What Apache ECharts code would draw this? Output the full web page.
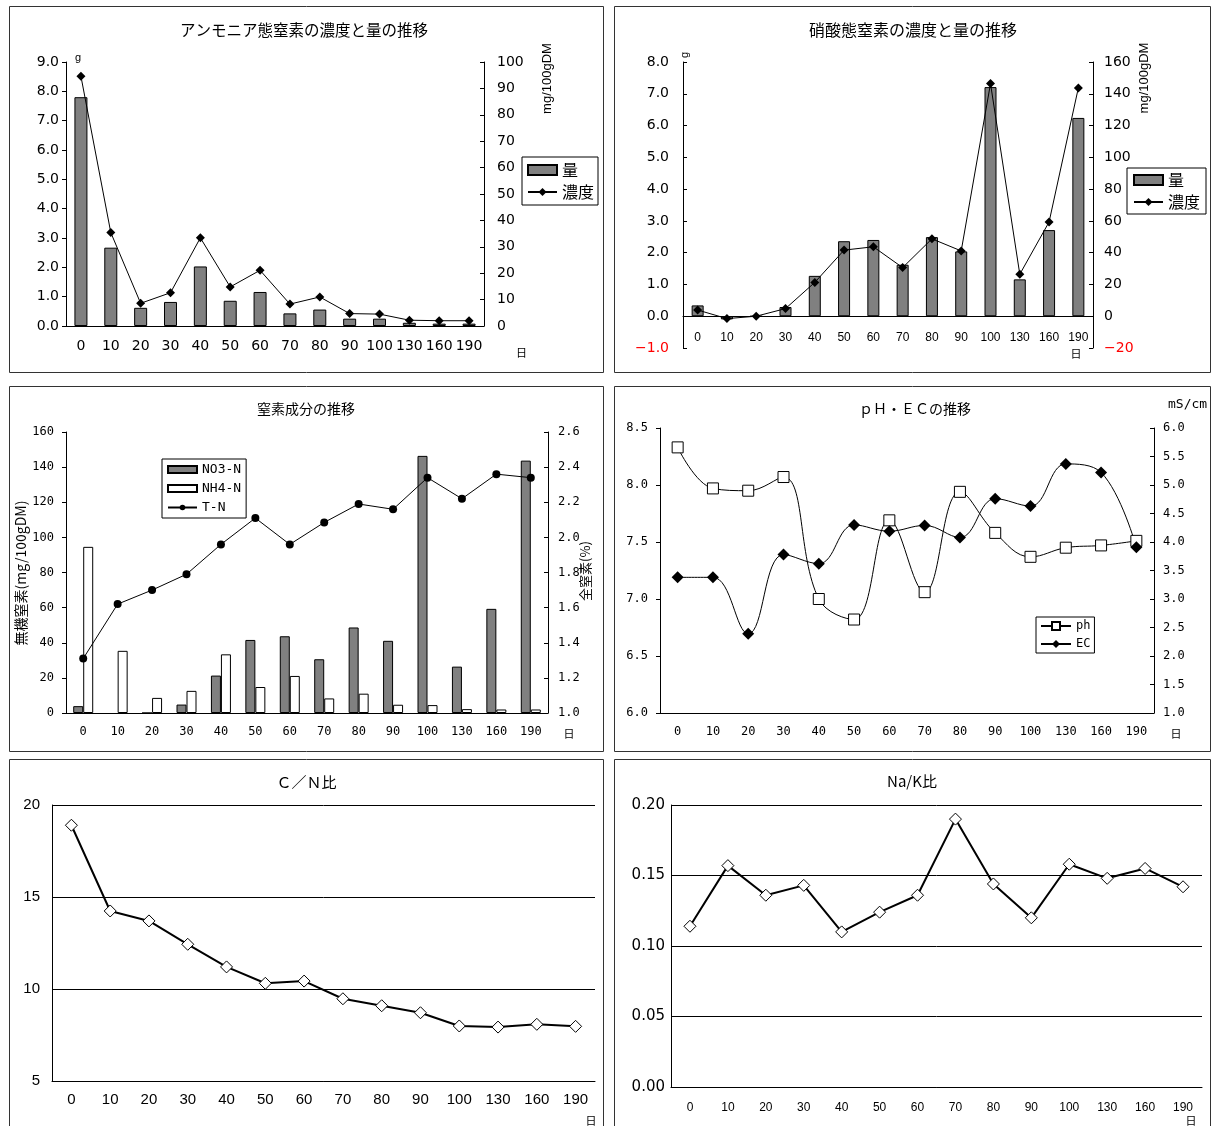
<!DOCTYPE html>
<html>
<head>
<meta charset="utf-8">
<title>堆肥化過程における窒素・pH・EC等の推移</title>
<script src="https://cdn.jsdelivr.net/npm/echarts@6/dist/echarts.min.js"></script>
<style>
  html, body { margin: 0; padding: 0; background: #fff; width: 1213px; height: 1126px; overflow: hidden; }
  .panel { position: absolute; }
</style>
</head>
<body>
<div id="p1" class="panel" style="left:9px;top:6px;width:595px;height:367px"></div>
<div id="p2" class="panel" style="left:614px;top:6px;width:597px;height:367px"></div>
<div id="p3" class="panel" style="left:9px;top:386px;width:595px;height:366px"></div>
<div id="p4" class="panel" style="left:614px;top:386px;width:597px;height:366px"></div>
<div id="p5" class="panel" style="left:9px;top:759px;width:595px;height:372px"></div>
<div id="p6" class="panel" style="left:614px;top:759px;width:597px;height:372px"></div>
<script>
// 経過日数
const days = ['0', '10', '20', '30', '40', '50', '60', '70', '80', '90', '100', '130', '160', '190'];

// アンモニア態窒素：量 (g) と濃度 (mg/100gDM)
const nh4Amount = [7.8, 2.67, 0.62, 0.82, 2.03, 0.86, 1.16, 0.43, 0.56, 0.25, 0.25, 0.11, 0.08, 0.08];
const nh4Conc = [94.6, 35.4, 8.6, 12.6, 33.4, 14.8, 21.1, 8.3, 11.0, 4.7, 4.5, 2.2, 2.0, 2.0];

// 硝酸態窒素：量 (g) と濃度 (mg/100gDM)
const no3Amount = [0.34, -0.1, 0, 0.29, 1.27, 2.36, 2.40, 1.62, 2.49, 2.04, 7.21, 1.16, 2.71, 6.24];
const no3Conc = [3.9, -1.5, 0, 4.8, 21.3, 41.6, 43.7, 30.6, 48.7, 41.1, 146.4, 26.4, 59.3, 143.7];

// 全窒素 (%)
const totalN = [1.31, 1.62, 1.70, 1.79, 1.96, 2.11, 1.96, 2.085, 2.19, 2.16, 2.34, 2.22, 2.36, 2.34];

// pH と EC (mS/cm)
const ph = [8.33, 7.97, 7.95, 8.07, 7.00, 6.82, 7.69, 7.06, 7.94, 7.58, 7.37, 7.45, 7.47, 7.51];
const ec = [3.38, 3.38, 2.39, 3.78, 3.62, 4.30, 4.19, 4.29, 4.08, 4.76, 4.63, 5.37, 5.22, 3.91];

// C/N比 と Na/K比
const cnRatio = [18.9, 14.24, 13.70, 12.43, 11.20, 10.31, 10.43, 9.47, 9.09, 8.71, 7.99, 7.93, 8.08, 7.97];
const naKRatio = [0.114, 0.157, 0.136, 0.143, 0.110, 0.124, 0.136, 0.190, 0.144, 0.120, 0.158, 0.148, 0.155, 0.142];

const CJK = '"Noto Sans CJK JP", sans-serif';
const SANS = '"Liberation Sans", Arial, sans-serif';
const WIDE = '"DejaVu Sans", sans-serif';
const MONO = '"DejaVu Sans Mono", monospace';

function frame(w, h) {
  return { type: 'rect', shape: { x: 0.5, y: 0.5, width: w - 1, height: h - 1 },
           style: { fill: null, stroke: '#333', lineWidth: 1 }, z: 100, silent: true };
}
function text(x, y, str, size, family, extra) {
  return Object.assign({ type: 'text', x: x, y: y, silent: true, z: 50,
    style: { text: str, fontSize: size, fontFamily: family, fill: '#000', align: 'center', verticalAlign: 'middle' } }, extra || {});
}
function catAxis(size, family, margin) {
  return {
    type: 'category', data: days, boundaryGap: true,
    axisLine: { onZero: false, lineStyle: { color: '#000', width: 1 } },
    axisTick: { inside: true, length: 5, lineStyle: { color: '#000' } },
    axisLabel: { color: '#000', fontSize: size, fontFamily: family, margin: margin, interval: 0 },
    splitLine: { show: false }
  };
}
function valAxis(o) {
  return {
    type: 'value', min: o.min, max: o.max, interval: o.interval, position: o.pos,
    axisLine: { show: true, onZero: false, lineStyle: { color: '#000' } },
    axisTick: { show: o.tick !== false, inside: !!o.inside, length: 4, lineStyle: { color: '#000' } },
    axisLabel: { color: o.color || '#000', fontSize: o.size, fontFamily: o.family, margin: o.margin, formatter: o.fmt },
    splitLine: { show: !!o.split, lineStyle: { color: '#000', width: 1 } }
  };
}
const redNeg = v => (v < 0 ? '#ff0000' : '#000');
const grayBar = { color: '#808080', borderColor: '#000', borderWidth: 1 };

function draw(id, option) {
  const el = document.getElementById(id);
  const chart = echarts.init(el, null, { renderer: 'canvas' });
  option.animation = false;
  chart.setOption(option);
}

// アンモニア態窒素の濃度と量の推移
draw('p1', {
  grid: { left: 57, top: 56, width: 418, height: 264 },
  xAxis: catAxis(14, WIDE, 13),
  yAxis: [
    valAxis({ min: 0, max: 9, interval: 1, pos: 'left', size: 14, family: WIDE, margin: 7, fmt: v => v.toFixed(1) }),
    valAxis({ min: 0, max: 100, interval: 10, pos: 'right', inside: true, size: 14, family: WIDE, margin: 13 })
  ],
  legend: {
    orient: 'vertical', left: 513, top: 151, data: [{ name: '量', icon: 'rect' }, '濃度'],
    itemWidth: 29, itemHeight: 10, itemGap: 6, padding: [5, 4, 5, 5],
    borderColor: '#000', borderWidth: 1, backgroundColor: '#fff',
    textStyle: { fontFamily: CJK, fontSize: 16, color: '#000' }
  },
  series: [
    { name: '量', type: 'bar', data: nh4Amount, barWidth: 13, itemStyle: grayBar },
    { name: '濃度', type: 'line', yAxisIndex: 1, data: nh4Conc, symbol: 'diamond', symbolSize: 9,
      lineStyle: { color: '#000', width: 1 }, itemStyle: { color: '#000' } }
  ],
  graphic: [
    frame(595, 367),
    text(295, 24, 'アンモニア態窒素の濃度と量の推移', 15.5, CJK),
    text(69, 51.5, 'g', 11, SANS),
    text(538, 72.5, 'mg/100gDM', 13, SANS, { rotation: Math.PI / 2 }),
    text(512.5, 346.5, '日', 11, CJK)
  ]
});

// 硝酸態窒素の濃度と量の推移 (x軸は0の位置に置く: 9目盛中の1目盛分上へ)
const p2Height = 286;
draw('p2', {
  grid: { left: 69, top: 56, width: 410, height: p2Height },
  xAxis: Object.assign(catAxis(12, SANS, 15), { offset: -p2Height / 9 }),
  yAxis: [
    valAxis({ min: -1, max: 8, interval: 1, pos: 'left', inside: true, size: 14, family: WIDE, margin: 14,
              color: redNeg, fmt: v => (v < 0 ? '\u2212' + Math.abs(v).toFixed(1) : v.toFixed(1)) }),
    valAxis({ min: -20, max: 160, interval: 20, pos: 'right', inside: true, size: 14, family: WIDE, margin: 11,
              color: redNeg, fmt: v => (v < 0 ? '\u2212' + Math.abs(v) : String(v)) })
  ],
  legend: {
    orient: 'vertical', left: 513, top: 162, data: [{ name: '量', icon: 'rect' }, '濃度'],
    itemWidth: 29, itemHeight: 10, itemGap: 6, padding: [4, 6, 4, 6],
    borderColor: '#000', borderWidth: 1, backgroundColor: '#fff',
    textStyle: { fontFamily: CJK, fontSize: 16, color: '#000' }
  },
  series: [
    { name: '量', type: 'bar', data: no3Amount, barWidth: 12, itemStyle: grayBar },
    { name: '濃度', type: 'line', yAxisIndex: 1, data: no3Conc, symbol: 'diamond', symbolSize: 9,
      lineStyle: { color: '#000', width: 1 }, itemStyle: { color: '#000' } }
  ],
  graphic: [
    frame(597, 367),
    text(299, 24, '硝酸態窒素の濃度と量の推移', 16, CJK),
    text(71, 49, 'g', 11, SANS, { rotation: Math.PI / 2 }),
    text(530, 72, 'mg/100gDM', 13, SANS, { rotation: Math.PI / 2 }),
    text(462, 348, '日', 11, CJK)
  ]
});

// 窒素成分の推移
draw('p3', {
  grid: { left: 57, top: 46, width: 482, height: 281 },
  xAxis: catAxis(12, MONO, 13),
  yAxis: [
    valAxis({ min: 0, max: 160, interval: 20, pos: 'left', size: 12, family: MONO, margin: 12 }),
    valAxis({ min: 1.0, max: 2.6, interval: 0.2, pos: 'right', inside: true, size: 12, family: MONO, margin: 10,
              fmt: v => v.toFixed(1) })
  ],
  legend: {
    orient: 'vertical', left: 153, top: 73,
    data: [{ name: 'NO3-N', icon: 'rect' }, { name: 'NH4-N', icon: 'rect' }, 'T-N'],
    itemWidth: 29, itemHeight: 7, itemGap: 6, padding: [4, 5, 4, 5],
    borderColor: '#000', borderWidth: 1, backgroundColor: '#fff',
    textStyle: { fontFamily: MONO, fontSize: 13, color: '#000' }
  },
  series: [
    { name: 'NO3-N', type: 'bar', data: no3Conc, barWidth: 10, barGap: '0%', itemStyle: grayBar },
    { name: 'NH4-N', type: 'bar', data: nh4Conc, barWidth: 10, barGap: '0%',
      itemStyle: { color: '#fff', borderColor: '#000', borderWidth: 1 } },
    { name: 'T-N', type: 'line', yAxisIndex: 1, data: totalN, symbol: 'circle', symbolSize: 8,
      lineStyle: { color: '#000', width: 1 }, itemStyle: { color: '#000' } }
  ],
  graphic: [
    frame(595, 366),
    text(297, 22.5, '窒素成分の推移', 14, CJK),
    text(12, 187, '無機窒素(mg/100gDM)', 14, CJK, { rotation: Math.PI / 2 }),
    text(576, 185, '全窒素(%)', 13, CJK, { rotation: Math.PI / 2 }),
    text(560, 348, '日', 11, CJK)
  ]
});

// ｐＨ・ＥＣの推移
draw('p4', {
  grid: { left: 46, top: 42, width: 494, height: 285 },
  xAxis: catAxis(12, MONO, 13),
  yAxis: [
    valAxis({ min: 6.0, max: 8.5, interval: 0.5, pos: 'left', size: 12, family: MONO, margin: 12,
              fmt: v => v.toFixed(1) }),
    valAxis({ min: 1.0, max: 6.0, interval: 0.5, pos: 'right', inside: true, size: 12, family: MONO, margin: 9,
              fmt: v => v.toFixed(1) })
  ],
  legend: {
    orient: 'vertical', left: 422, top: 231, data: ['ph', 'EC'],
    itemWidth: 30, itemHeight: 10, itemGap: 6, padding: [3, 4, 3, 4],
    borderColor: '#000', borderWidth: 1, backgroundColor: '#fff',
    textStyle: { fontFamily: MONO, fontSize: 12, color: '#000' }
  },
  series: [
    { name: 'ph', type: 'line', data: ph, smooth: 0.4, symbol: 'rect', symbolSize: 11,
      lineStyle: { color: '#000', width: 1 }, itemStyle: { color: '#fff', borderColor: '#000', borderWidth: 1 } },
    { name: 'EC', type: 'line', yAxisIndex: 1, data: ec, smooth: 0.4, symbol: 'diamond', symbolSize: 12,
      lineStyle: { color: '#000', width: 1 }, itemStyle: { color: '#000' } }
  ],
  graphic: [
    frame(597, 366),
    text(301, 22.5, 'ｐＨ・ＥＣの推移', 14, CJK),
    text(554, 19, 'mS/cm', 13, MONO, { style: { text: 'mS/cm', fontSize: 13, fontFamily: MONO, fill: '#000', align: 'left', verticalAlign: 'middle' } }),
    text(562, 348, '日', 11, CJK)
  ]
});

// C/N比
draw('p5', {
  grid: { left: 43, top: 46, width: 543, height: 276 },
  xAxis: catAxis(15, SANS, 11),
  yAxis: valAxis({ min: 5, max: 20, interval: 5, pos: 'left', tick: false, split: true, size: 15, family: SANS, margin: 12 }),
  series: [
    { type: 'line', data: cnRatio, symbol: 'diamond', symbolSize: 12,
      lineStyle: { color: '#000', width: 2 }, itemStyle: { color: '#fff', borderColor: '#000', borderWidth: 1 } }
  ],
  graphic: [
    frame(595, 372),
    text(297.5, 23, 'Ｃ／Ｎ比', 15, CJK),
    text(582, 362, '日', 11, CJK)
  ]
});

// Na/K比
draw('p6', {
  grid: { left: 57, top: 46, width: 531, height: 282 },
  xAxis: catAxis(12, SANS, 15),
  yAxis: valAxis({ min: 0, max: 0.2, interval: 0.05, pos: 'left', tick: false, split: true, size: 15, family: WIDE, margin: 6,
                   fmt: v => v.toFixed(2) }),
  series: [
    { type: 'line', data: naKRatio, symbol: 'diamond', symbolSize: 12,
      lineStyle: { color: '#000', width: 2 }, itemStyle: { color: '#fff', borderColor: '#000', borderWidth: 1 } }
  ],
  graphic: [
    frame(597, 372),
    text(298, 22, 'Na/K比', 15, CJK),
    text(577, 362, '日', 11, CJK)
  ]
});
</script>
</body>
</html>
